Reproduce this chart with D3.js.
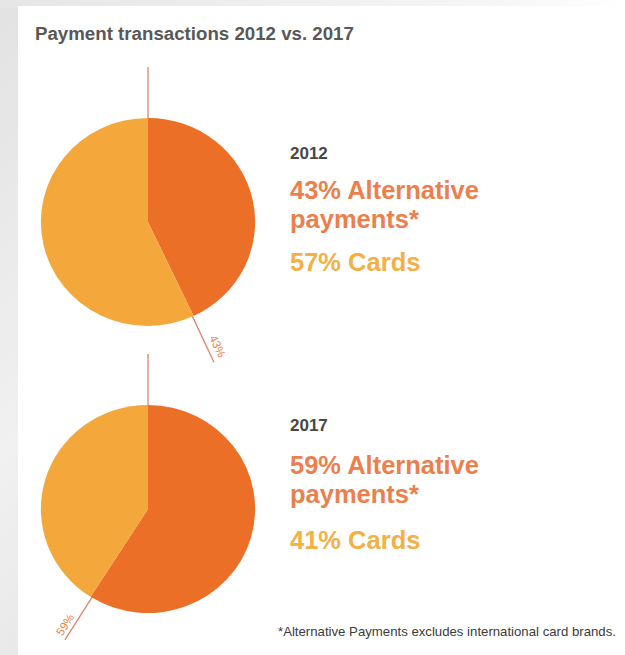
<!DOCTYPE html>
<html>
<head>
<meta charset="utf-8">
<script src="https://cdn.jsdelivr.net/npm/d3@7"></script>
<style>
  html, body { margin: 0; padding: 0; background: #ffffff; }
  svg { display: block; }
</style>
</head>
<body>
<script>
// ---- data ----
const title = "Payment transactions 2012 vs. 2017";
const years = ["2012", "2017"];
const altShare = [43, 59];      // Alternative payments (%)
const cardShare = [57, 41];     // Cards (%)
const categories = ["Alternative payments*", "Cards"];
const footnote = "*Alternative Payments excludes international card brands.";

// ---- layout ----
const W = 625, H = 655;
const colors = { alt: "#ec6f27", card: "#f4a83c", altText: "#ec7f4c", cardText: "#f2b046",
                 line: "#d8876d", title: "#585858", year: "#474747" };

const svg = d3.select("body").append("svg").attr("width", W).attr("height", H);

// background
const defs = svg.append("defs");
const bg = defs.append("linearGradient").attr("id", "bg")
  .attr("x1", "0").attr("y1", "0").attr("x2", "1").attr("y2", "1");
bg.append("stop").attr("offset", "0").attr("stop-color", "#e2e2e2");
bg.append("stop").attr("offset", "0.35").attr("stop-color", "#f1f1f1");
bg.append("stop").attr("offset", "0.6").attr("stop-color", "#e4e4e4");
bg.append("stop").attr("offset", "1").attr("stop-color", "#efefef");
svg.append("rect").attr("width", W).attr("height", H).attr("fill", "url(#bg)");
const topFade = defs.append("linearGradient").attr("id", "topFade")
  .attr("x1", "0").attr("y1", "0").attr("x2", "1").attr("y2", "0");
topFade.append("stop").attr("offset", "0").attr("stop-color", "#e6e6e6");
topFade.append("stop").attr("offset", "0.8").attr("stop-color", "#f6f6f6");
topFade.append("stop").attr("offset", "1").attr("stop-color", "#ffffff");
svg.append("rect").attr("x", 0).attr("y", 0).attr("width", W).attr("height", 8).attr("fill", "url(#topFade)");
svg.append("rect").attr("x", 18).attr("y", 6).attr("width", W - 18).attr("height", H - 6).attr("fill", "#ffffff");

// title
svg.append("text")
  .attr("x", 35).attr("y", 40)
  .attr("font-family", "Liberation Sans, Arial, sans-serif")
  .attr("font-weight", "bold").attr("font-size", 18.7)
  .attr("fill", colors.title)
  .text(title);

const R = 104, Rline = 155;
const centers = [[148, 222], [148, 509]];
const textTop = [159, 431];
const lineGaps = [[0, 40, 69, 112], [0, 43, 72, 118]];

const pie = d3.pie().sort(null).value(d => d);
const arc = d3.arc().innerRadius(0).outerRadius(R);

years.forEach((yr, i) => {
  const [cx, cy] = centers[i];
  const g = svg.append("g").attr("transform", `translate(${cx},${cy})`);
  const arcs = pie([altShare[i], cardShare[i]]);

  // leader lines (vertical start and split)
  const splitAngle = arcs[0].endAngle;
  [0, splitAngle].forEach(a => {
    g.append("line")
      .attr("x1", Math.sin(a) * R).attr("y1", -Math.cos(a) * R)
      .attr("x2", Math.sin(a) * Rline).attr("y2", -Math.cos(a) * Rline)
      .attr("stroke", colors.line).attr("stroke-width", 1.3);
  });

  const pg = g.append("g").attr("transform", "scale(1.03,1)");
  pg.selectAll("path").data(arcs).join("path")
    .attr("d", arc)
    .attr("fill", (d, j) => j === 0 ? colors.alt : colors.card);

  // percent label along the split line
  const deg = splitAngle * 180 / Math.PI;
  const rLab = 142;
  const px = Math.sin(splitAngle) * rLab, py = -Math.cos(splitAngle) * rLab;
  let rot = deg - 90;                 // along outward direction
  if (rot > 90) rot -= 180;           // keep text upright-ish
  const rr = rot * Math.PI / 180;
  const off = i === 0 ? 6 : 4;         // baseline offset from line
  const ox = Math.sin(rr) * off, oy = -Math.cos(rr) * off;
  g.append("text")
    .attr("transform", `translate(${px + ox},${py + oy}) rotate(${rot})`)
    .attr("text-anchor", "middle")
    .attr("font-family", "Liberation Sans, Arial, sans-serif")
    .attr("font-size", 11.5)
    .attr("fill", colors.altText)
    .text(altShare[i] + "%");

  // text block
  const tx = 290, ty = textTop[i], gp = lineGaps[i];
  const font = "Liberation Sans, Arial, sans-serif";
  svg.append("text").attr("x", tx).attr("y", ty + gp[0])
    .attr("font-family", font).attr("font-weight", "bold").attr("font-size", 17)
    .attr("fill", colors.year).text(yr);
  const altWords = categories[0].split(" ");
  svg.append("text").attr("x", tx).attr("y", ty + gp[1])
    .attr("font-family", font).attr("font-weight", "bold").attr("font-size", 25.5)
    .attr("fill", colors.altText).text(`${altShare[i]}% ${altWords[0]}`);
  svg.append("text").attr("x", tx).attr("y", ty + gp[2])
    .attr("font-family", font).attr("font-weight", "bold").attr("font-size", 25.5)
    .attr("fill", colors.altText).text(altWords.slice(1).join(" "));
  svg.append("text").attr("x", tx).attr("y", ty + gp[3])
    .attr("font-family", font).attr("font-weight", "bold").attr("font-size", 25.5)
    .attr("fill", colors.cardText).text(`${cardShare[i]}% ${categories[1]}`);
});

// footnote
svg.append("text")
  .attr("x", 278).attr("y", 636)
  .attr("font-family", "Liberation Sans, Arial, sans-serif")
  .attr("font-size", 13.2)
  .attr("fill", "#3c3c3c")
  .text(footnote);
</script>
</body>
</html>
